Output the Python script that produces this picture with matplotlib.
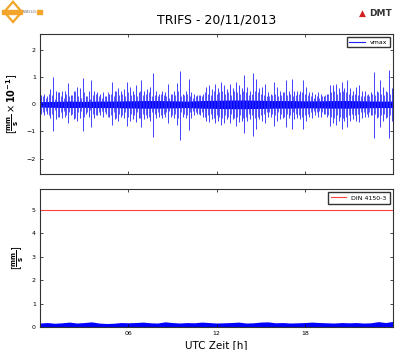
import numpy as np
import matplotlib.pyplot as plt
from matplotlib.patches import Polygon, Rectangle

# Zeitachse der Spitzen [h]
t_spk = np.arange(0.1, 24.0, 0.2)

# positive Spitzen vmax [mm/s x 10^-1]
v_up = [0.35, 0.4, 0.3, 0.55, 1.02, 0.5, 0.45, 0.5, 0.5, 0.78,
        0.35, 0.5, 0.65, 0.6, 0.98, 0.3, 0.5, 0.9, 0.5, 0.45,
        0.4, 0.45, 0.3, 0.4, 0.83, 0.5, 0.6, 0.5, 0.55, 0.83,
        0.65, 0.5, 0.7, 0.45, 0.9, 0.5, 0.55, 0.65, 1.15, 0.5,
        0.4, 0.5, 0.45, 0.75, 0.4, 0.5, 0.8, 1.25, 0.4, 0.5,
        0.95, 0.45, 0.4, 0.35, 0.35, 0.4, 0.65, 0.7, 0.55, 0.75,
        0.6, 0.83, 0.7, 0.55, 0.75, 0.6, 0.83, 0.7, 0.6, 1.08,
        0.65, 0.5, 1.14, 0.95, 0.6, 0.65, 0.75, 0.45, 0.4, 0.83,
        0.65, 0.5, 0.45, 0.9, 0.5, 0.95, 0.5, 0.5, 0.5, 0.9,
        0.65, 0.45, 0.45, 0.4, 0.45, 0.4, 0.3, 0.4, 0.7, 0.7,
        0.77, 0.6, 0.83, 0.6, 0.9, 0.6, 0.5, 0.65, 0.7, 0.5,
        0.5, 0.4, 0.45, 1.2, 0.5, 0.9, 0.65, 0.5, 1.26, 0.6]

# negative Spitzen (Betrag)
v_dn = [0.35, 0.4, 0.35, 0.5, 1.0, 0.55, 0.45, 0.5, 0.45, 0.7,
        0.4, 0.55, 0.6, 0.5, 1.0, 0.35, 0.45, 0.82, 0.5, 0.4,
        0.4, 0.45, 0.35, 0.45, 0.75, 0.55, 0.6, 0.45, 0.5, 0.8,
        0.6, 0.55, 0.65, 0.5, 0.85, 0.55, 0.5, 0.6, 1.2, 0.5,
        0.45, 0.5, 0.45, 0.7, 0.45, 0.5, 0.75, 1.3, 0.45, 0.5,
        0.95, 0.5, 0.4, 0.35, 0.4, 0.45, 0.6, 0.65, 0.55, 0.7,
        0.6, 0.75, 0.7, 0.55, 0.7, 0.55, 0.8, 0.65, 0.6, 1.07,
        0.6, 0.55, 1.16, 0.9, 0.55, 0.6, 0.7, 0.45, 0.45, 0.8,
        0.6, 0.55, 0.5, 0.85, 0.5, 0.9, 0.55, 0.5, 0.55, 0.9,
        0.6, 0.45, 0.5, 0.4, 0.45, 0.45, 0.35, 0.45, 0.8, 0.7,
        0.75, 0.6, 0.9, 0.6, 0.85, 0.6, 0.55, 0.6, 0.65, 0.5,
        0.45, 0.45, 0.4, 1.25, 0.5, 0.85, 0.6, 0.5, 1.25, 0.6]

# kleinere Ausschlaege dazwischen
t_mid = np.arange(0.2, 24.0, 0.2)
v_mid = [0.3, 0.25, 0.4, 0.35, 0.2, 0.45, 0.3, 0.25, 0.4, 0.3,
         0.35, 0.5, 0.3, 0.25, 0.45, 0.3, 0.2, 0.35, 0.4, 0.3,
         0.25, 0.3, 0.45, 0.4, 0.3, 0.5, 0.35, 0.4, 0.3, 0.45,
         0.35, 0.4, 0.3, 0.5, 0.35, 0.4, 0.45, 0.3, 0.35, 0.3,
         0.4, 0.35, 0.3, 0.25, 0.4, 0.35, 0.5, 0.3, 0.35, 0.4,
         0.3, 0.25, 0.3, 0.35, 0.3, 0.45, 0.4, 0.35, 0.5, 0.4,
         0.45, 0.5, 0.4, 0.45, 0.35, 0.5, 0.45, 0.4, 0.5, 0.45,
         0.35, 0.4, 0.5, 0.45, 0.4, 0.35, 0.3, 0.3, 0.35, 0.4,
         0.3, 0.35, 0.45, 0.35, 0.4, 0.3, 0.35, 0.4, 0.45, 0.4,
         0.35, 0.3, 0.25, 0.3, 0.25, 0.3, 0.35, 0.4, 0.45, 0.5,
         0.4, 0.45, 0.5, 0.45, 0.4, 0.35, 0.4, 0.35, 0.3, 0.3,
         0.35, 0.3, 0.4, 0.35, 0.45, 0.4, 0.35, 0.45, 0.4]

# Grundrauschen (Huellkurve, stuendlich)
t_core = np.arange(0, 25, 1)
core = [0.1, 0.11, 0.12, 0.11, 0.12, 0.12, 0.13, 0.14, 0.14, 0.13,
        0.12, 0.14, 0.15, 0.16, 0.16, 0.15, 0.14, 0.14, 0.13, 0.13,
        0.14, 0.14, 0.13, 0.12, 0.12]

# unteres Diagramm: vmax [mm/s], halbstuendlich
t_low = np.arange(0, 24.5, 0.5)
v_low = [0.13, 0.15, 0.12, 0.14, 0.17, 0.13, 0.15, 0.18, 0.13, 0.11,
         0.12, 0.15, 0.14, 0.15, 0.17, 0.14, 0.13, 0.18, 0.15, 0.13,
         0.15, 0.14, 0.17, 0.15, 0.13, 0.14, 0.15, 0.17, 0.13, 0.14,
         0.17, 0.18, 0.14, 0.15, 0.13, 0.14, 0.15, 0.17, 0.15, 0.14,
         0.13, 0.15, 0.14, 0.15, 0.13, 0.14, 0.19, 0.15, 0.2]

din_limit = 5.0
title = 'TRIFS - 20/11/2013'

plt.rcParams['font.family'] = 'DejaVu Sans'

fig = plt.figure(figsize=(4, 3.5), dpi=100)
ax1 = fig.add_axes([0.1, 0.503, 0.8825, 0.4])
ax2 = fig.add_axes([0.1, 0.066, 0.8825, 0.394])

# oben
ax1.vlines(t_mid, [-v for v in v_mid], v_mid, color='#3030ff', lw=0.7, alpha=0.8)
ax1.vlines(t_spk, [-v for v in v_dn], v_up, color='#2020ff', lw=0.7, alpha=0.85)
ax1.fill_between(t_core, [-c for c in core], core, color='#0000ff', lw=0)
ax1.plot([], [], color='#2020ff', lw=0.8, label='vmax')
ax1.set_xlim(0, 24)
ax1.set_ylim(-2.57, 2.6)
ax1.set_yticks([-2, -1, 0, 1, 2])
ax1.set_xticks([6, 12, 18])
ax1.set_xticklabels([])
ax1.set_ylabel(r'$[\mathbf{\frac{mm}{s}}\times \mathbf{10^{-1}}]$', fontsize=7)
ax1.legend(loc='upper right', fontsize=4.5, fancybox=False, edgecolor='#333333',
           handlelength=2.5, borderpad=0.4, framealpha=1)

# unten
ax2.fill_between(t_low, 0, v_low, color='#0000ff', lw=1.2, edgecolor='#0000ff')
ax2.axhline(din_limit, color='#ff4040', lw=0.8, label='DIN 4150-3')
ax2.set_xlim(0, 24)
ax2.set_ylim(0, 5.9)
ax2.set_yticks([0, 1, 2, 3, 4, 5])
ax2.set_xticks([6, 12, 18])
ax2.set_xticklabels(['06', '12', '18'])
ax2.set_ylabel(r'$[\mathbf{\frac{mm}{s}}]$', fontsize=7)
ax2.set_xlabel('UTC Zeit [h]', fontsize=7.5, labelpad=3)
ax2.legend(loc='upper right', fontsize=4.5, fancybox=False, edgecolor='#333333',
           handlelength=2.5, borderpad=0.5, framealpha=1)

for ax in (ax1, ax2):
    ax.tick_params(direction='in', top=True, right=True, labelsize=4.5,
                   length=2, width=0.5, pad=3)
    for s in ax.spines.values():
        s.set_linewidth(0.8)
        s.set_color('#333333')

fig.text(0.541, 0.943, title, ha='center', va='center', fontsize=9)

# Logos (vereinfacht)
orange = '#f2a52a'
fig.patches.append(Rectangle((0.005, 0.96), 0.05, 0.012, color=orange,
                             transform=fig.transFigure))
fig.patches.append(Polygon([[0.0325, 0.995], [0.0545, 0.966], [0.0325, 0.937], [0.0105, 0.966]],
                           closed=True, fill=False, edgecolor=orange, lw=1.6,
                           transform=fig.transFigure))
fig.patches.append(Rectangle((0.093, 0.96), 0.012, 0.012, color=orange,
                             transform=fig.transFigure))
fig.text(0.074, 0.966, 'WEGG', fontsize=3.2, color='#666666', va='center', ha='center')
fig.text(0.907, 0.962, '\u25B2', fontsize=6.5, color='#d42020', va='center', ha='center')
fig.text(0.922, 0.962, 'DMT', fontsize=6.5, color='#333333', va='center', ha='left',
         fontweight='bold')

fig.savefig('out.png', dpi=100)
